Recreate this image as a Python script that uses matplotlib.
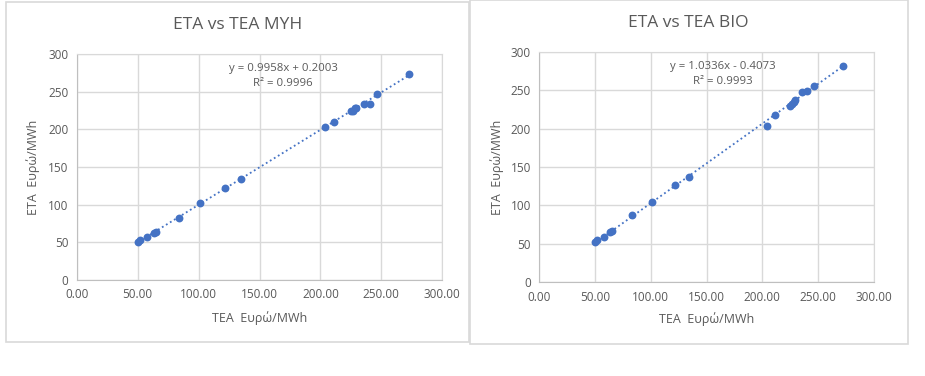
import numpy as np
import matplotlib.pyplot as plt
from matplotlib.patches import Rectangle
from matplotlib.ticker import FormatStrFormatter

plt.rcParams['font.family'] = ['Open Sans', 'DejaVu Sans']

# TEA (x) values, same in both charts
tea = [50.3, 52.2, 57.7, 63.5, 64.8, 83.6, 101.5, 121.5, 134.7, 204.0,
       211.5, 225.3, 226.8, 228.1, 229.0, 235.6, 240.5, 246.6, 272.5]
# ETA values
eta_myh = [50.0, 53.1, 57.1, 62.8, 63.3, 82.3, 102.2, 121.7, 134.1, 203.1,
           210.2, 224.3, 224.3, 227.9, 228.8, 234.1, 234.1, 246.5, 273.5]
eta_bio = [52.5, 55.1, 59.0, 65.5, 66.3, 88.0, 104.5, 126.6, 137.4, 203.3,
           217.2, 229.3, 231.9, 234.9, 237.1, 247.5, 248.8, 255.7, 281.7]

titles = ["ETA vs TEA MYH", "ETA vs TEA BIO"]
slopes = [0.9958, 1.0336]
intercepts = [0.2003, -0.4073]
eq_texts = ["y = 0.9958x + 0.2003", "y = 1.0336x - 0.4073"]
r2_texts = ["R² = 0.9996", "R² = 0.9993"]
xlabel = "TEA  Ευρώ/MWh"
ylabel = "ETA  Ευρώ/MWh"

W, H = 925, 376
blue = "#4472C4"
grey_txt = "#595959"
grid_c = "#d9d9d9"

fig = plt.figure(figsize=(W / 100, H / 100), dpi=100)

def fx(px):
    return px / W

def fy(py):
    return 1 - py / H

# chart boxes (pixel left, top, right, bottom)
boxes = [(6, 2, 469, 342), (470, 0, 908, 344)]
axes_px = [(76.7, 54, 442.3, 280), (539.3, 51.7, 873.7, 282.3)]
title_px = [(238, 25), (688, 23)]
eq_px = [(283, 68, 84), (723, 66, 81)]
ylab_x = [33, 497]
xlab_y = [318, 319]

for i, eta in enumerate([eta_myh, eta_bio]):
    l, t, r, b = boxes[i]
    fig.patches.append(Rectangle((fx(l), fy(b)), fx(r - l), (b - t) / H,
                                 transform=fig.transFigure, fill=False,
                                 edgecolor=grid_c, lw=1.2))
    al, at, ar, ab = axes_px[i]
    ax = fig.add_axes([fx(al), fy(ab), fx(ar - al), (ab - at) / H])
    ax.set_xlim(0, 300)
    ax.set_ylim(0, 300)
    ax.set_xticks(np.arange(0, 301, 50))
    ax.set_yticks(np.arange(0, 301, 50))
    ax.xaxis.set_major_formatter(FormatStrFormatter("%.2f"))
    ax.grid(True, color=grid_c, lw=1.0)
    ax.set_axisbelow(True)
    for s in ax.spines.values():
        s.set_color(grid_c)
    ax.spines['left'].set_color("#bfbfbf")
    ax.spines['bottom'].set_color("#bfbfbf")
    ax.tick_params(length=0, labelsize=8.5, colors=grey_txt, pad=6)

    x = np.array(tea)
    xs = np.array([x.min(), x.max()])
    ax.plot(xs, slopes[i] * xs + intercepts[i], color=blue, lw=1.3,
            linestyle=(0, (1, 1.6)), zorder=2)
    ax.scatter(x, eta, s=32, color=blue, zorder=3, linewidths=0)

    fig.text(fx(title_px[i][0]), fy(title_px[i][1]), titles[i], ha="center",
             va="center", fontsize=12.5, color=grey_txt)
    fig.text(fx(eq_px[i][0]), fy(eq_px[i][1]), eq_texts[i], ha="center",
             va="center", fontsize=8.2, color=grey_txt)
    fig.text(fx(eq_px[i][0]), fy(eq_px[i][2]), r2_texts[i], ha="center",
             va="center", fontsize=8.2, color=grey_txt)
    fig.text(fx((al + ar) / 2), fy(xlab_y[i]), xlabel, ha="center",
             va="center", fontsize=9, color=grey_txt)
    fig.text(fx(ylab_x[i]), fy((at + ab) / 2), ylabel, ha="center",
             va="center", rotation=90, fontsize=9, color=grey_txt)

fig.savefig("out.png", dpi=100, facecolor="white")
